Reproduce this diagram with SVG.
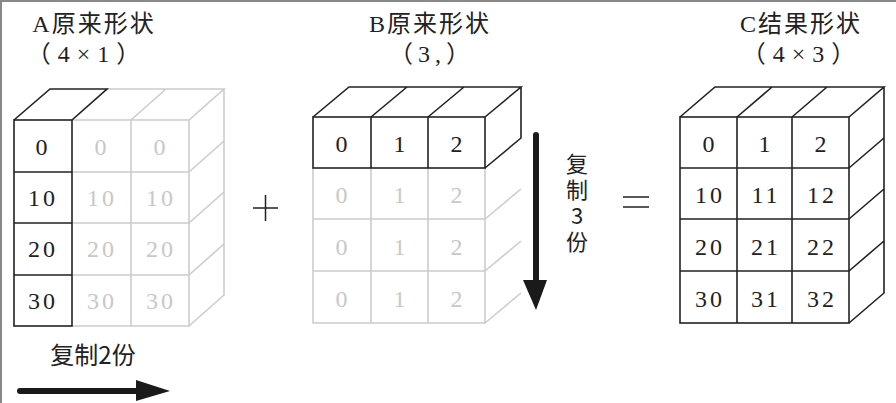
<svg xmlns="http://www.w3.org/2000/svg" width="896" height="403" viewBox="0 0 896 403">
<style>
.t{font-family:"Liberation Serif","Noto Sans CJK SC",serif;fill:#222}
.title{font-size:24px;letter-spacing:2px;text-anchor:middle}
.paren{font-size:24px;letter-spacing:7px;text-anchor:middle}
.num{font-size:24px;letter-spacing:3px;text-anchor:middle}
.dk{fill:none;stroke:#222;stroke-width:1.6}
.lt{fill:none;stroke:#cccccc;stroke-width:1.6}
.cn{font-family:"Noto Sans CJK SC","Liberation Serif",sans-serif;fill:#222}
</style>
<rect x="0" y="0" width="896" height="403" fill="#fff"/>
<path d="M1 403 V1 H896" fill="none" stroke="#888" stroke-width="2"/>

<g id="titles">
<text class="t title" x="94" y="32">A原来形状</text>
<text class="t paren" x="87" y="62">（4×1）</text>
<text class="t title" x="430" y="32">B原来形状</text>
<text class="t paren" x="432" y="62" style="letter-spacing:5px">（3,）</text>
<text class="t title" x="801" y="32">C结果形状</text>
<text class="t paren" x="802" y="62">（4×3）</text>
</g>

<g id="nodeA">
<g class="lt">
<path d="M72 120 H189 V326 H72 M72 172 H189 M72 223 H189 M72 275 H189 M131 120 V326"/>
<path d="M72 120 L107 89 H224 L189 120 M131 120 L166 89 M224 89 V295 L189 326 M189 172 L224 141 M189 223 L224 192 M189 275 L224 244"/>
</g>
<g class="dk">
<rect x="14" y="120" width="58" height="206"/>
<path d="M14 172 H72 M14 223 H72 M14 275 H72 M14 120 L50 89 H107 L72 120"/>
</g>
<g class="t num">
<text x="43" y="155">0</text><text x="43" y="206">10</text><text x="43" y="257">20</text><text x="43" y="309">30</text>
</g>
<g class="t num" style="fill:#c8c8c8">
<text x="102" y="155">0</text><text x="102" y="206">10</text><text x="102" y="257">20</text><text x="102" y="309">30</text>
<text x="161" y="155">0</text><text x="161" y="206">10</text><text x="161" y="257">20</text><text x="161" y="309">30</text>
</g>
</g>

<g id="nodeB">
<g class="lt">
<path d="M313 168 V323 H485 V168 M313 219 H485 M313 271 H485 M371 168 V323 M428 168 V323 M485 219 L521 189 M485 271 L521 241 M485 323 L521 293"/>
</g>
<g class="dk">
<rect x="313" y="117" width="172" height="51"/>
<path d="M371 117 V168 M428 117 V168 M313 117 L349 87 H521 L485 117 M371 117 L407 87 M428 117 L464 87 M521 87 V138 L485 168"/>
</g>
<g class="t num">
<text x="343" y="152">0</text><text x="401" y="152">1</text><text x="458" y="152">2</text>
</g>
<g class="t num" style="fill:#c8c8c8">
<text x="343" y="203">0</text><text x="401" y="203">1</text><text x="458" y="203">2</text>
<text x="343" y="255">0</text><text x="401" y="255">1</text><text x="458" y="255">2</text>
<text x="343" y="307">0</text><text x="401" y="307">1</text><text x="458" y="307">2</text>
</g>
</g>

<g id="nodeC">
<g class="dk">
<rect x="680" y="117" width="169" height="206"/>
<path d="M737 117 V323 M792 117 V323 M680 168 H849 M680 219 H849 M680 271 H849"/>
<path d="M680 117 L715 87 H884 L849 117 M737 117 L772 87 M792 117 L827 87 M884 87 V293 L849 323 M849 168 L884 138 M849 219 L884 189 M849 271 L884 241"/>
</g>
<g class="t num">
<text x="710" y="152">0</text><text x="766" y="152">1</text><text x="822" y="152">2</text>
<text x="710" y="203">10</text><text x="766" y="203">11</text><text x="822" y="203">12</text>
<text x="710" y="255">20</text><text x="766" y="255">21</text><text x="822" y="255">22</text>
<text x="710" y="307">30</text><text x="766" y="307">31</text><text x="822" y="307">32</text>
</g>
</g>

<g id="ops">
<path d="M253 208 H278 M265.5 195 V221" stroke="#222" stroke-width="1.5" fill="none"/>
<path d="M623 197 H649 M623 207 H649" stroke="#222" stroke-width="1.5" fill="none"/>
</g>

<g id="connectors">
<path d="M536 135 V282" stroke="#1a1a1a" stroke-width="6" stroke-linecap="round" fill="none"/>
<polygon points="523,280 547,280 536,310" fill="#1a1a1a"/>
<path d="M20 391 H140" stroke="#1a1a1a" stroke-width="6" stroke-linecap="round" fill="none"/>
<polygon points="136,380 136,401 170,391" fill="#1a1a1a"/>
</g>

<g id="labels">
<text class="cn" x="577" y="153" style="writing-mode:vertical-rl;text-orientation:upright;font-size:22px;letter-spacing:4px">复制3份</text>
<text class="cn" x="93" y="364" text-anchor="middle" style="font-size:24px">复制2份</text>
</g>
</svg>
